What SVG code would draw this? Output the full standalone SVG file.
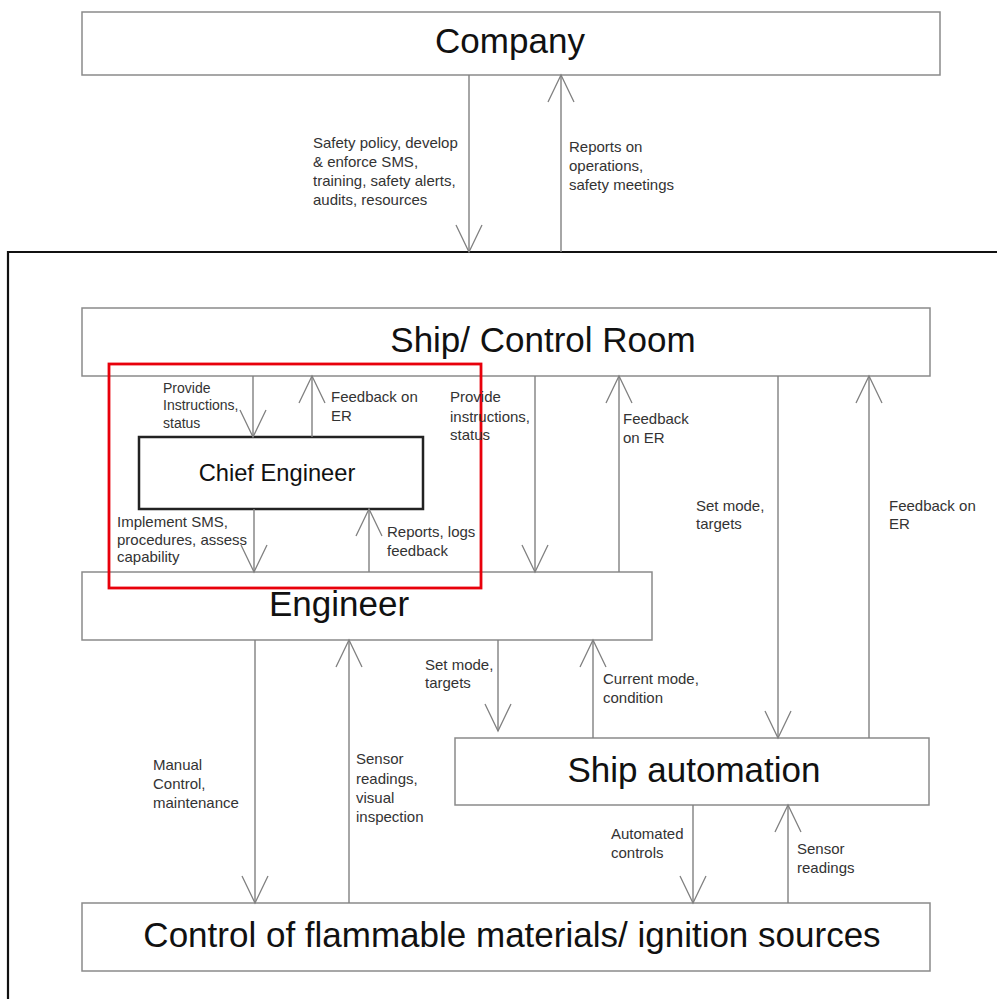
<svg xmlns="http://www.w3.org/2000/svg" width="997" height="999" viewBox="0 0 997 999">
  <style>
    .box { fill: #ffffff; stroke: #8a8a8a; stroke-width: 1.5; }
    .chief { fill: #ffffff; stroke: #222222; stroke-width: 2.5; }
    .title { font-family: "Liberation Sans", Arial, sans-serif; font-size: 35px; fill: #111111; text-anchor: middle; }
    .ctitle { font-family: "Liberation Sans", Arial, sans-serif; font-size: 23.7px; fill: #111111; text-anchor: middle; }
    .lbl { font-family: "Liberation Sans", Arial, sans-serif; font-size: 15px; fill: #333333; }
    .lbl14 { font-family: "Liberation Sans", Arial, sans-serif; font-size: 14px; fill: #333333; }
    .flow { fill: none; stroke: #808080; stroke-width: 1.4; marker-end: url(#vee); }
  </style>
  <defs>
    <marker id="vee" markerUnits="userSpaceOnUse" orient="auto" refX="0" refY="0" markerWidth="30" markerHeight="30" viewBox="-30 -15 30 30" overflow="visible">
      <path d="M-27,-13 L0,0 L-27,13" fill="none" stroke="#808080" stroke-width="1.3"/>
    </marker>
  </defs>

  <rect width="997" height="999" fill="#ffffff"/>

  <!-- ship boundary -->
  <path id="ship-boundary" d="M8,999 L8,252 L997,252" fill="none" stroke="#111111" stroke-width="2.2"/>

  <g id="company">
    <rect class="box" x="82" y="12" width="858" height="63"/>
    <text class="title" x="510" y="53">Company</text>
  </g>

  <g id="ship-control-room">
    <rect class="box" x="82" y="308" width="848" height="68"/>
    <text class="title" x="543" y="352">Ship/ Control Room</text>
  </g>

  <g id="chief-engineer">
    <rect class="chief" x="139" y="437" width="284" height="72"/>
    <text class="ctitle" x="277" y="481">Chief Engineer</text>
  </g>

  <g id="engineer">
    <rect class="box" x="82" y="572" width="570" height="68"/>
    <text class="title" x="339" y="616">Engineer</text>
  </g>

  <g id="ship-automation">
    <rect class="box" x="455" y="738" width="474" height="67"/>
    <text class="title" x="694" y="782">Ship automation</text>
  </g>

  <g id="flammables">
    <rect class="box" x="82" y="903" width="848" height="68"/>
    <text class="title" x="512" y="947">Control of flammable materials/ ignition sources</text>
  </g>

  <!-- highlight frame around the chief engineer loop -->
  <rect id="highlight" x="109" y="364" width="372" height="224" fill="none" stroke="#e8000b" stroke-width="2.8"/>

  <g id="connectors">
    <!-- company <-> ship -->
    <path class="flow" d="M469,75 L469,252"/>
    <path class="flow" d="M561,252 L561,75"/>
    <!-- control room <-> chief engineer -->
    <path class="flow" d="M253,376 L253,437"/>
    <path class="flow" d="M312,437 L312,376"/>
    <!-- chief engineer <-> engineer -->
    <path class="flow" d="M254,509 L254,572"/>
    <path class="flow" d="M369,572 L369,509"/>
    <!-- control room <-> engineer -->
    <path class="flow" d="M535,376 L535,572"/>
    <path class="flow" d="M619,572 L619,376"/>
    <!-- control room <-> automation -->
    <path class="flow" d="M778,376 L778,738"/>
    <path class="flow" d="M869,738 L869,376"/>
    <!-- engineer <-> flammables -->
    <path class="flow" d="M255,640 L255,903"/>
    <path class="flow" d="M349,903 L349,640"/>
    <!-- engineer <-> automation -->
    <path class="flow" d="M498,640 L498,731"/>
    <path class="flow" d="M593,738 L593,640"/>
    <!-- automation <-> flammables -->
    <path class="flow" d="M693,805 L693,903"/>
    <path class="flow" d="M788,903 L788,805"/>
  </g>

  <g id="labels">
    <text class="lbl" x="313" y="148">Safety policy, develop</text>
    <text class="lbl" x="313" y="167">&amp; enforce SMS,</text>
    <text class="lbl" x="313" y="186">training, safety alerts,</text>
    <text class="lbl" x="313" y="205">audits, resources</text>

    <text class="lbl" x="569" y="152">Reports on</text>
    <text class="lbl" x="569" y="171">operations,</text>
    <text class="lbl" x="569" y="190">safety meetings</text>

    <text class="lbl14" x="163" y="393">Provide</text>
    <text class="lbl14" x="163" y="410">Instructions,</text>
    <text class="lbl14" x="163" y="428">status</text>

    <text class="lbl" x="331" y="402">Feedback on</text>
    <text class="lbl" x="331" y="421">ER</text>

    <text class="lbl" x="117" y="527">Implement SMS,</text>
    <text class="lbl" x="117" y="545">procedures, assess</text>
    <text class="lbl" x="117" y="562">capability</text>

    <text class="lbl" x="387" y="537">Reports, logs</text>
    <text class="lbl" x="387" y="556">feedback</text>

    <text class="lbl" x="450" y="402">Provide</text>
    <text class="lbl" x="450" y="422">instructions,</text>
    <text class="lbl" x="450" y="440">status</text>

    <text class="lbl" x="623" y="424">Feedback</text>
    <text class="lbl" x="623" y="443">on ER</text>

    <text class="lbl" x="696" y="511">Set mode,</text>
    <text class="lbl" x="696" y="529">targets</text>

    <text class="lbl" x="889" y="511">Feedback on</text>
    <text class="lbl" x="889" y="529">ER</text>

    <text class="lbl" x="425" y="670">Set mode,</text>
    <text class="lbl" x="425" y="688">targets</text>

    <text class="lbl" x="603" y="684">Current mode,</text>
    <text class="lbl" x="603" y="703">condition</text>

    <text class="lbl" x="153" y="770">Manual</text>
    <text class="lbl" x="153" y="789">Control,</text>
    <text class="lbl" x="153" y="808">maintenance</text>

    <text class="lbl" x="356" y="764">Sensor</text>
    <text class="lbl" x="356" y="784">readings,</text>
    <text class="lbl" x="356" y="803">visual</text>
    <text class="lbl" x="356" y="822">inspection</text>

    <text class="lbl" x="611" y="839">Automated</text>
    <text class="lbl" x="611" y="858">controls</text>

    <text class="lbl" x="797" y="854">Sensor</text>
    <text class="lbl" x="797" y="873">readings</text>
  </g>
</svg>
